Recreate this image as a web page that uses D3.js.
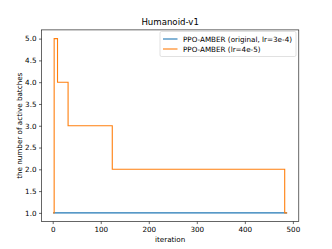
<!DOCTYPE html>
<html lang="en">
<head>
<meta charset="UTF-8">
<title>Humanoid-v1</title>
<script src="https://d3js.org/d3.v7.min.js"></script>
<style>
  body { margin: 0; background: #fff; }
  text { font-family: "DejaVu Sans", sans-serif; fill: #000; }
</style>
</head>
<body>
<svg id="chart" width="332" height="249"></svg>
<script>
// data (change points of each step series)
const seriesNames = ["PPO-AMBER (original, lr=3e-4)", "PPO-AMBER (lr=4e-5)"];
const blueIter = [1, 488];
const blueBatches = [1, 1];
const orangeIter = [1, 3, 10, 32, 124, 483, 488];
const orangeBatches = [1, 5, 4, 3, 2, 1, 1];
const xTicks = [0, 100, 200, 300, 400, 500];
const yTicks = [1.0, 1.5, 2.0, 2.5, 3.0, 3.5, 4.0, 4.5, 5.0];
const colors = ["#1f77b4", "#ff7f0e"];

const W = 332, H = 249;
const margin = { left: 41.5, right: 33.2, top: 29.9, bottom: 27.4 };

const svg = d3.select("#chart");

// matplotlib style 5% margins
const xmin = 1, xmax = 488, xr = xmax - xmin;
const x = d3.scaleLinear()
    .domain([xmin - 0.05 * xr, xmax + 0.05 * xr])
    .range([margin.left, W - margin.right]);
const y = d3.scaleLinear()
    .domain([0.8, 5.2])
    .range([H - margin.bottom, margin.top]);

const line = d3.line()
    .x(d => x(d[0]))
    .y(d => y(d[1]))
    .curve(d3.curveStepAfter);

const plot = svg.append("g");
const series = [
    d3.zip(blueIter, blueBatches),
    d3.zip(orangeIter, orangeBatches)
];
series.forEach((s, i) => {
    plot.append("path")
        .datum(s)
        .attr("d", line)
        .attr("fill", "none")
        .attr("stroke", colors[i])
        .attr("stroke-width", 1.1)
        .attr("stroke-linejoin", "miter");
});

// axes
const xAxis = svg.append("g")
    .attr("transform", `translate(0,${H - margin.bottom})`)
    .call(d3.axisBottom(x).tickValues(xTicks).tickSize(2.5).tickPadding(2.5).tickFormat(d3.format("d")));
const yAxis = svg.append("g")
    .attr("transform", `translate(${margin.left},0)`)
    .call(d3.axisLeft(y).tickValues(yTicks).tickSize(2.5).tickPadding(2.5).tickFormat(d3.format(".1f")));
[xAxis, yAxis].forEach(a => {
    a.select(".domain").remove();
    a.selectAll("text").attr("font-size", 7.2).style("font-family", "DejaVu Sans");
    a.selectAll("line").attr("stroke", "#000").attr("stroke-width", 0.6);
});

// frame
svg.append("rect")
    .attr("x", margin.left)
    .attr("y", margin.top)
    .attr("width", W - margin.left - margin.right)
    .attr("height", H - margin.top - margin.bottom)
    .attr("fill", "none")
    .attr("stroke", "#000")
    .attr("stroke-width", 0.6);

// title and labels
svg.append("text")
    .attr("x", (margin.left + W - margin.right) / 2)
    .attr("y", 25)
    .attr("text-anchor", "middle")
    .attr("font-size", 8.6)
    .text("Humanoid-v1");
svg.append("text")
    .attr("x", (margin.left + W - margin.right) / 2)
    .attr("y", 241.8)
    .attr("text-anchor", "middle")
    .attr("font-size", 7.2)
    .text("iteration");
svg.append("text")
    .attr("transform", `translate(21.5,${(margin.top + H - margin.bottom) / 2}) rotate(-90)`)
    .attr("text-anchor", "middle")
    .attr("font-size", 7.2)
    .text("the number of active batches");

// legend
const legend = svg.append("g").attr("transform", "translate(160,31.5)");
legend.append("rect")
    .attr("width", 136)
    .attr("height", 25)
    .attr("rx", 1.5)
    .attr("fill", "#fff")
    .attr("fill-opacity", 0.8)
    .attr("stroke", "#ccc")
    .attr("stroke-width", 0.6);
seriesNames.forEach((name, i) => {
    const yy = 7.5 + i * 10;
    legend.append("line")
        .attr("x1", 3).attr("x2", 17.5)
        .attr("y1", yy).attr("y2", yy)
        .attr("stroke", colors[i])
        .attr("stroke-width", 1.1);
    legend.append("text")
        .attr("x", 23)
        .attr("y", yy + 2.6)
        .attr("font-size", 7.2)
        .text(name);
});
</script>
</body>
</html>
